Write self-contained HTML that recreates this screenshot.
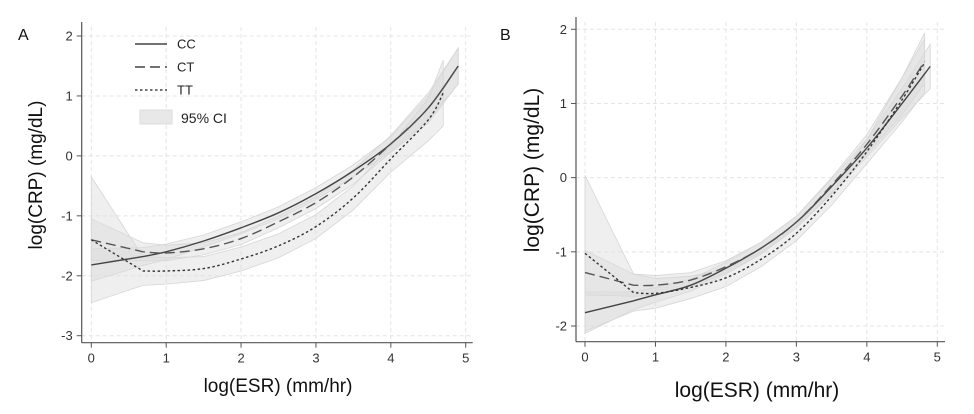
<!DOCTYPE html>
<html><head><meta charset="utf-8"><style>
body{margin:0;background:#fff;}
svg{display:block;font-family:"Liberation Sans",sans-serif;}
</style></head><body>
<svg id="chart" width="974" height="414"></svg>
<script>
const xsA=[0,0.69,1,1.5,2,2.5,3,3.5,4,4.5,4.9];
const ccA=[-1.82,-1.68,-1.6,-1.42,-1.2,-0.95,-0.63,-0.25,0.2,0.8,1.5];
const ctA=[-1.4,-1.6,-1.62,-1.55,-1.38,-1.1,-0.78,-0.35,0.2,0.8,1.5];
const xsTTA=[0,0.69,1,1.5,2,2.5,3,3.5,4,4.5,4.7];
const ttA=[-1.4,-1.92,-1.92,-1.88,-1.72,-1.5,-1.18,-0.7,-0.05,0.6,1.05];
const ccAci=[0.27,0.15,0.13,0.1,0.1,0.1,0.1,0.1,0.12,0.2,0.3];
const ctAci=[0.35,0.15,0.13,0.1,0.1,0.1,0.1,0.12,0.14,0.25,0.3];
const ttAci=[1.05,0.24,0.22,0.2,0.2,0.2,0.2,0.2,0.22,0.35,0.55];

const xsB=[0,0.69,1,1.5,2,2.5,3,3.5,4,4.5,4.9];
const ccB=[-1.82,-1.66,-1.58,-1.45,-1.22,-0.95,-0.6,-0.12,0.4,1.0,1.5];
const xsB2=[0,0.69,1,1.5,2,2.5,3,3.5,4,4.5,4.82];
const ctB=[-1.28,-1.45,-1.45,-1.38,-1.2,-0.95,-0.6,-0.1,0.45,1.1,1.57];
const ttB=[-1.02,-1.55,-1.56,-1.48,-1.35,-1.1,-0.75,-0.25,0.35,1.05,1.55];
const ccBci=[0.28,0.12,0.1,0.08,0.08,0.08,0.08,0.1,0.12,0.2,0.3];
const ctBci=[0.3,0.15,0.13,0.1,0.08,0.08,0.08,0.1,0.13,0.25,0.3];
const ttBci=[1.05,0.25,0.2,0.15,0.12,0.1,0.1,0.12,0.16,0.3,0.4];

const xTicks=[0,1,2,3,4,5];
const yTicksA=[2,1,0,-1,-2,-3];
const yTicksB=[2,1,0,-1,-2];

const NS="http://www.w3.org/2000/svg";
const svg=document.getElementById('chart');
function mk(t,a,p){const e=document.createElementNS(NS,t);for(const k in a)e.setAttribute(k,a[k]);(p||svg).appendChild(e);return e;}

function smooth(pts){
  // Catmull-Rom to cubic bezier, linear for first segment (kink at 0.69)
  let d='M'+pts[0][0]+','+pts[0][1]+' L'+pts[1][0]+','+pts[1][1];
  for(let i=1;i<pts.length-1;i++){
    const p0=pts[i-1>=1?i-1:1],p1=pts[i],p2=pts[i+1],p3=pts[i+2]||p2;
    const c1=[p1[0]+(p2[0]-p0[0])/6,p1[1]+(p2[1]-p0[1])/6];
    const c2=[p2[0]-(p3[0]-p1[0])/6,p2[1]-(p3[1]-p1[1])/6];
    d+=` C${c1[0]},${c1[1]} ${c2[0]},${c2[1]} ${p2[0]},${p2[1]}`;
  }
  return d;
}

function panel(P){
  const g=mk('g',{});
  
  
  const sx=v=>P.x0+(v-0)*(P.x5-P.x0)/5;
  const sy=v=>P.yTop+(P.ymax-v)*(P.yBot-P.yTop)/(P.ymax-P.ymin);
  xTicks.forEach(t=>{const l=mk('line',{x1:sx(t),x2:sx(t),y1:P.gridTop,y2:P.axisY,stroke:'#e4e4e4','stroke-dasharray':'4,3'},g);});
  P.yTicks.forEach(t=>{const l=mk('line',{x1:P.axisX,x2:P.right,y1:sy(t),y2:sy(t),stroke:'#e4e4e4','stroke-dasharray':'4,3'},g);});
  P.series.forEach(s=>{
    const up=s.xs.map((x,i)=>sx(x)+','+sy(s.y[i]+s.ci[i]));
    const lo=s.xs.map((x,i)=>sx(x)+','+sy(s.y[i]-s.ci[i])).reverse();
    const b=mk('polygon',{points:up.concat(lo).join(' '),fill:'#dcdcdc','fill-opacity':0.45,stroke:'#d6d6d6','stroke-width':0.8},g);
    
  });
  P.series.forEach(s=>{
    const pts=s.xs.map((x,i)=>[sx(x),sy(s.y[i])]);
    const l=mk('path',{d:smooth(pts),fill:'none',stroke:s.col,'stroke-width':1.4,'stroke-dasharray':s.dash},g);
    
  });
  const ax=mk('line',{x1:P.axisX,x2:P.axisX,y1:P.gridTop-5,y2:P.axisY,stroke:'#555','stroke-width':1.2},g);
  
  const bx=mk('line',{x1:P.axisX,x2:P.right,y1:P.axisY,y2:P.axisY,stroke:'#555','stroke-width':1.2},g);
  
  xTicks.forEach(t=>{
    mk('line',{x1:sx(t),x2:sx(t),y1:P.axisY,y2:P.axisY+5,stroke:'#555'},g);
    const tx=mk('text',{x:sx(t),y:P.axisY+20,'font-size':13,'text-anchor':'middle',fill:'#333'},g);tx.textContent=t;
    
  });
  P.yTicks.forEach(t=>{
    mk('line',{x1:P.axisX-5,x2:P.axisX,y1:sy(t),y2:sy(t),stroke:'#555'},g);
    const tx=mk('text',{x:P.axisX-9,y:sy(t)+4.5,'font-size':13,'text-anchor':'end',fill:'#333'},g);tx.textContent=t;
    
  });
  const xt=mk('text',{x:P.xtX,y:P.xtY,'font-size':P.fs,'text-anchor':'middle',fill:'#111'},g);xt.textContent='log(ESR) (mm/hr)';
  
  const yt=mk('text',{x:0,y:0,'font-size':P.fs,'text-anchor':'middle',fill:'#111',transform:`translate(${P.ytX},${P.ytY}) rotate(-90)`},g);yt.textContent='log(CRP) (mg/dL)';
  
  const pl=mk('text',{x:P.labX,y:P.labY,'font-size':16,fill:'#111'},g);pl.textContent=P.label;
  
}

const solid='none',dashed='10,5',dotted='2.5,2.5';
panel({name:'panel-a',label:'A',labX:18,labY:40,x0:91.3,x5:465.7,yTop:36,yBot:335.7,ymax:2,ymin:-3,axisX:81.7,axisY:342.7,right:472.7,gridTop:27,
  yTicks:yTicksA,fs:19,xtX:278,xtY:392,ytX:42,ytY:175,
  series:[{key:'cc',xs:xsA,y:ccA,ci:ccAci,col:'#444',dash:solid},{key:'ct',xs:xsA,y:ctA,ci:ctAci,col:'#555',dash:dashed},{key:'tt',xs:xsTTA,y:ttA,ci:ttAci,col:'#333',dash:dotted}]});
panel({name:'panel-b',label:'B',labX:500,labY:40,x0:585,x5:937.3,yTop:29.3,yBot:326,ymax:2,ymin:-2,axisX:576,axisY:341.7,right:945,gridTop:22,
  yTicks:yTicksB,fs:21,xtX:757,xtY:397,ytX:539,ytY:170,
  series:[{key:'cc',xs:xsB,y:ccB,ci:ccBci,col:'#444',dash:solid},{key:'ct',xs:xsB2,y:ctB,ci:ctBci,col:'#555',dash:dashed},{key:'tt',xs:xsB2,y:ttB,ci:ttBci,col:'#333',dash:dotted}]});

const lg=mk('g',{});


[['CC',solid,44],['CT',dashed,67],['TT',dotted,90]].forEach(([n,d,y])=>{
  const e=mk('line',{x1:135,x2:167,y1:y,y2:y,stroke:'#444','stroke-width':1.4,'stroke-dasharray':d},lg);
  
  const t=mk('text',{x:177,y:y+4.5,'font-size':13,fill:'#222'},lg);t.textContent=n;
  
});
const r=mk('rect',{x:140,y:110,width:32,height:14,fill:'#e8e8e8',stroke:'#ddd'},lg);

const ct=mk('text',{x:181,y:123,'font-size':14,fill:'#222'},lg);ct.textContent='95% CI';

</script>
</body></html>
